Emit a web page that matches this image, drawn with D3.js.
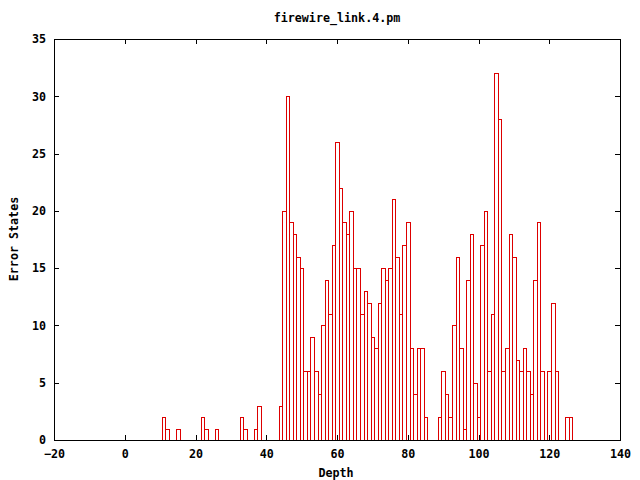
<!DOCTYPE html>
<html>
<head>
<meta charset="utf-8">
<script src="https://cdn.jsdelivr.net/npm/d3@7"></script>
<style>
  body { margin: 0; background: #fff; }
  text { font-family: "DejaVu Sans Mono", monospace; font-weight: bold; font-size: 11.7px; fill: #000; }
</style>
</head>
<body>
<script>
// depth bins and how many error states fell in each
var depth = [11, 12, 15, 22, 23, 26, 33, 34, 37, 38,
  44, 45, 46, 47, 48, 49, 50, 51, 52, 53, 54, 55, 56, 57, 58, 59, 60, 61, 62, 63, 64,
  65, 66, 67, 68, 69, 70, 71, 72, 73, 74, 75, 76, 77, 78, 79, 80, 81, 82, 83, 84, 85,
  89, 90, 91, 92, 93, 94, 95, 96, 97, 98, 99, 100, 101, 102, 103, 104, 105, 106, 107,
  108, 109, 110, 111, 112, 113, 114, 115, 116, 117, 118, 120, 121, 122, 125, 126];
var errorStates = [2, 1, 1, 2, 1, 1, 2, 1, 1, 3,
  3, 20, 30, 19, 18, 16, 15, 6, 6, 9, 6, 4, 10, 14, 11, 17, 26, 22, 19, 18, 20,
  15, 15, 11, 13, 12, 9, 8, 12, 15, 14, 15, 21, 16, 11, 17, 19, 8, 4, 8, 8, 2,
  2, 6, 4, 2, 10, 16, 8, 1, 14, 18, 5, 2, 17, 20, 6, 11, 32, 28, 6,
  8, 18, 16, 7, 6, 8, 6, 4, 14, 19, 6, 6, 12, 6, 2, 2];
var xTicks = [-20, 0, 20, 40, 60, 80, 100, 120, 140];
var yTicks = [0, 5, 10, 15, 20, 25, 30, 35];

var width = 640, height = 480;
var margin = {top: 39, right: 20, bottom: 40, left: 54};

var svg = d3.select("body").append("svg")
    .attr("width", width)
    .attr("height", height);

var x = d3.scaleLinear().domain([-20, 140]).range([margin.left, width - margin.right]);
var y = d3.scaleLinear().domain([0, 35]).range([height - margin.bottom, margin.top]);

var data = depth.map(function(d, i) { return {depth: d, n: errorStates[i]}; });

// boxes (outlines only, like gnuplot "with boxes")
svg.append("g")
    .selectAll("rect")
    .data(data)
  .enter().append("rect")
    .attr("x", function(d) { return Math.round(x(d.depth - 0.5)) + 0.5; })
    .attr("y", function(d) { return Math.round(y(d.n)) + 0.5; })
    .attr("width", function(d) { return Math.round(x(d.depth + 0.5)) - Math.round(x(d.depth - 0.5)); })
    .attr("height", function(d) { return Math.round(y(0)) - Math.round(y(d.n)); })
    .style("fill", "none")
    .style("stroke", "#dd0000")
    .style("stroke-width", 1)
    .style("shape-rendering", "crispEdges");

// axes, ticks pointing inward and mirrored
svg.append("g")
    .attr("transform", "translate(0," + y(0) + ")")
    .call(d3.axisBottom(x).tickValues(xTicks).tickSize(-5).tickPadding(10));
svg.append("g")
    .attr("transform", "translate(" + x(-20) + ",0)")
    .call(d3.axisLeft(y).tickValues(yTicks).tickSize(-5).tickPadding(8));
svg.append("g")
    .attr("transform", "translate(0," + y(35) + ")")
    .call(d3.axisTop(x).tickValues(xTicks).tickSize(-5).tickFormat(""));
svg.append("g")
    .attr("transform", "translate(" + x(140) + ",0)")
    .call(d3.axisRight(y).tickValues(yTicks).tickSize(-5).tickFormat(""));

svg.selectAll(".domain").remove();
svg.selectAll(".tick line").style("stroke", "#000").style("shape-rendering", "crispEdges");
svg.selectAll("g").attr("font-family", null).attr("font-size", null);

// frame
svg.append("rect")
    .attr("x", x(-20) + 0.5)
    .attr("y", y(35) + 0.5)
    .attr("width", x(140) - x(-20))
    .attr("height", y(0) - y(35))
    .style("fill", "none")
    .style("stroke", "#000")
    .style("shape-rendering", "crispEdges");

// titles
svg.append("text")
    .attr("x", 337)
    .attr("y", 22)
    .attr("text-anchor", "middle")
    .text("firewire_link.4.pm");
svg.append("text")
    .attr("x", 336)
    .attr("y", 477)
    .attr("text-anchor", "middle")
    .text("Depth");
svg.append("text")
    .attr("transform", "translate(18,239) rotate(-90)")
    .attr("text-anchor", "middle")
    .text("Error States");
</script>
</body>
</html>
